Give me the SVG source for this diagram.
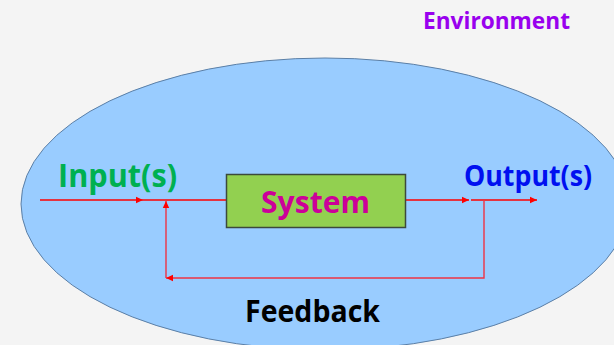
<svg xmlns="http://www.w3.org/2000/svg" width="614" height="345" viewBox="0 0 614 345">
<defs>
<style>
.t{font-family:"Open Sans","Noto Sans","DejaVu Sans",sans-serif;font-weight:bold}
.ln{stroke:#ff0000;stroke-width:1.4;fill:none}
.fb{stroke:#ee3344;stroke-width:1.4;fill:none}
</style>
<marker id="ah" markerUnits="userSpaceOnUse" markerWidth="8" markerHeight="8" viewBox="0 0 8 8" refX="7" refY="4" orient="auto">
<path d="M0,0.8 L7,4 L0,7.2 Z" fill="#ff0000"/>
</marker>
</defs>
<rect x="0" y="0" width="614" height="345" fill="#f4f4f4"/>
<g id="environment">
<ellipse cx="325" cy="204" rx="304" ry="146" fill="#99ccff" stroke="#5b7fa6" stroke-width="1"/>
<text class="t" x="423" y="29" font-size="24" fill="#9900ee" textLength="147" lengthAdjust="spacingAndGlyphs">Environment</text>
</g>
<g id="connectors">
<line class="ln" x1="40" y1="200" x2="143" y2="200" marker-end="url(#ah)"/>
<line class="ln" x1="143" y1="200" x2="226" y2="200"/>
<line class="ln" x1="402" y1="200" x2="469" y2="200" marker-end="url(#ah)"/>
<line class="ln" x1="471" y1="200" x2="537" y2="200" marker-end="url(#ah)"/>
<path class="fb" d="M484,200 V278 H166" marker-end="url(#ah)"/>
<path class="fb" d="M166,278 V201" marker-end="url(#ah)"/>
</g>
<g id="system">
<rect x="226.5" y="174.5" width="179" height="53" fill="#92d050" stroke="#3c4a3c" stroke-width="1.5"/>
<text class="t" x="261" y="213" font-size="31" fill="#cc0099" textLength="109" lengthAdjust="spacingAndGlyphs">System</text>
</g>
<g id="input">
<text class="t" x="58" y="187" font-size="32" fill="#00b050" textLength="119" lengthAdjust="spacingAndGlyphs">Input(s)</text>
</g>
<g id="output">
<text class="t" x="464" y="186" font-size="28" fill="#0010f0" textLength="128" lengthAdjust="spacingAndGlyphs">Output(s)</text>
</g>
<g id="feedback">
<text class="t" x="245" y="322" font-size="30" fill="#000000" textLength="135" lengthAdjust="spacingAndGlyphs">Feedback</text>
</g>
</svg>
